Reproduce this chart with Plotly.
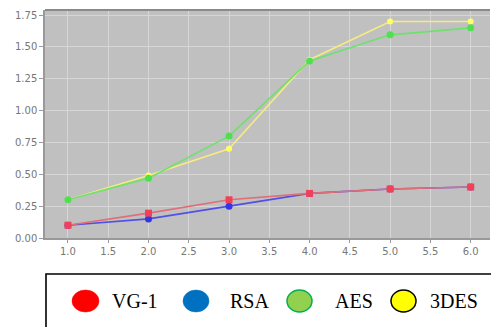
import plotly.graph_objects as go

x_vals = [1, 2, 3, 4, 5, 6]
vg1 = [0.10, 0.195, 0.30, 0.35, 0.385, 0.40]
rsa = [0.10, 0.15, 0.25, 0.35, 0.385, 0.40]
aes = [0.30, 0.47, 0.80, 1.39, 1.595, 1.65]
des3 = [0.30, 0.49, 0.70, 1.40, 1.70, 1.70]

legend_names = ["VG-1", "RSA", "AES", "3DES"]
legend_fill = ["#ff0000", "#0070c0", "#92d050", "#ffff00"]
legend_line = ["#ff0000", "#0070c0", "#00b050", "#000000"]

W, H = 491, 327
L, R, T, B = 45, 1, 10, 89
pw, ph = W - L - R, H - T - B

def px(x):
    return (x - L) / pw

def py(y):
    return (H - B - y) / ph

fig = go.Figure()
series = [
    (des3, "3DES", "rgba(245,235,130,1)", "#ffff66", "circle", 6),
    (aes, "AES", "rgba(110,225,110,1)", "#4fe04f", "circle", 7),
    (rsa, "RSA", "rgba(80,80,230,1)", "#3535e8", "circle", 7),
    (vg1, "VG-1", "rgba(222,110,120,1)", "#f0405a", "square", 7),
]
for ys, name, lc, mc, sym, ms in series:
    fig.add_trace(go.Scatter(
        x=x_vals, y=ys, name=name, mode="lines+markers",
        line=dict(color=lc, width=1.6),
        marker=dict(color=mc, symbol=sym, size=ms),
        showlegend=False,
    ))

shapes = []
shapes.append(dict(type="rect", xref="paper", yref="paper",
                   x0=px(46), x1=px(500), y0=py(274), y1=py(335),
                   line=dict(color="#000000", width=1.6), fillcolor="rgba(0,0,0,0)"))
annotations = []
ell_x = [(72, 99), (183, 209), (287, 312), (391, 416)]
txt_x = [110, 228, 333, 428]
for i, name in enumerate(legend_names):
    x0, x1 = ell_x[i]
    shapes.append(dict(type="circle", xref="paper", yref="paper",
                       x0=px(x0), x1=px(x1), y0=py(312), y1=py(290),
                       fillcolor=legend_fill[i],
                       line=dict(color=legend_line[i], width=1.5 if i >= 2 else 0.5)))
    annotations.append(dict(text=name, xref="paper", yref="paper",
                            x=px(txt_x[i]), y=py(301), xanchor="left", yanchor="middle",
                            showarrow=False,
                            font=dict(family="Liberation Serif", size=20, color="#000000")))

fig.update_layout(
    width=W, height=H,
    margin=dict(l=L, r=R, t=T, b=B, autoexpand=False),
    paper_bgcolor="white",
    plot_bgcolor="#c0c0c0",
    shapes=shapes,
    annotations=annotations,
    font=dict(family="DejaVu Sans", size=10, color="#777777"),
)
fig.update_xaxes(range=[0.715, 6.24], tickvals=[1, 1.5, 2, 2.5, 3, 3.5, 4, 4.5, 5, 5.5, 6],
                 ticktext=["1.0", "1.5", "2.0", "2.5", "3.0", "3.5", "4.0", "4.5", "5.0", "5.5", "6.0"],
                 showgrid=True, gridcolor="#d6d6d6", gridwidth=1,
                 showline=True, linecolor="#999999", linewidth=1.5,
                 ticks="outside", ticklen=3, tickcolor="#999999", zeroline=False,
                 automargin=False)
fig.update_yaxes(range=[0, 1.79], tickvals=[0, 0.25, 0.5, 0.75, 1.0, 1.25, 1.5, 1.75],
                 ticktext=["0.00", "0.25", "0.50", "0.75", "1.00", "1.25", "1.50", "1.75"],
                 showgrid=True, gridcolor="#d6d6d6", gridwidth=1,
                 showline=True, linecolor="#999999", linewidth=1.5,
                 ticks="outside", ticklen=4, tickcolor="#999999", zeroline=False,
                 automargin=False)
fig.add_shape(type="line", xref="paper", yref="paper", x0=0, x1=1, y0=1, y1=1,
              line=dict(color="#8a8a8a", width=2))

fig.write_html("out.html", config={"displayModeBar": False},
               post_script="document.body.style.margin='0';document.body.style.padding='0';document.body.style.overflow='hidden';")
